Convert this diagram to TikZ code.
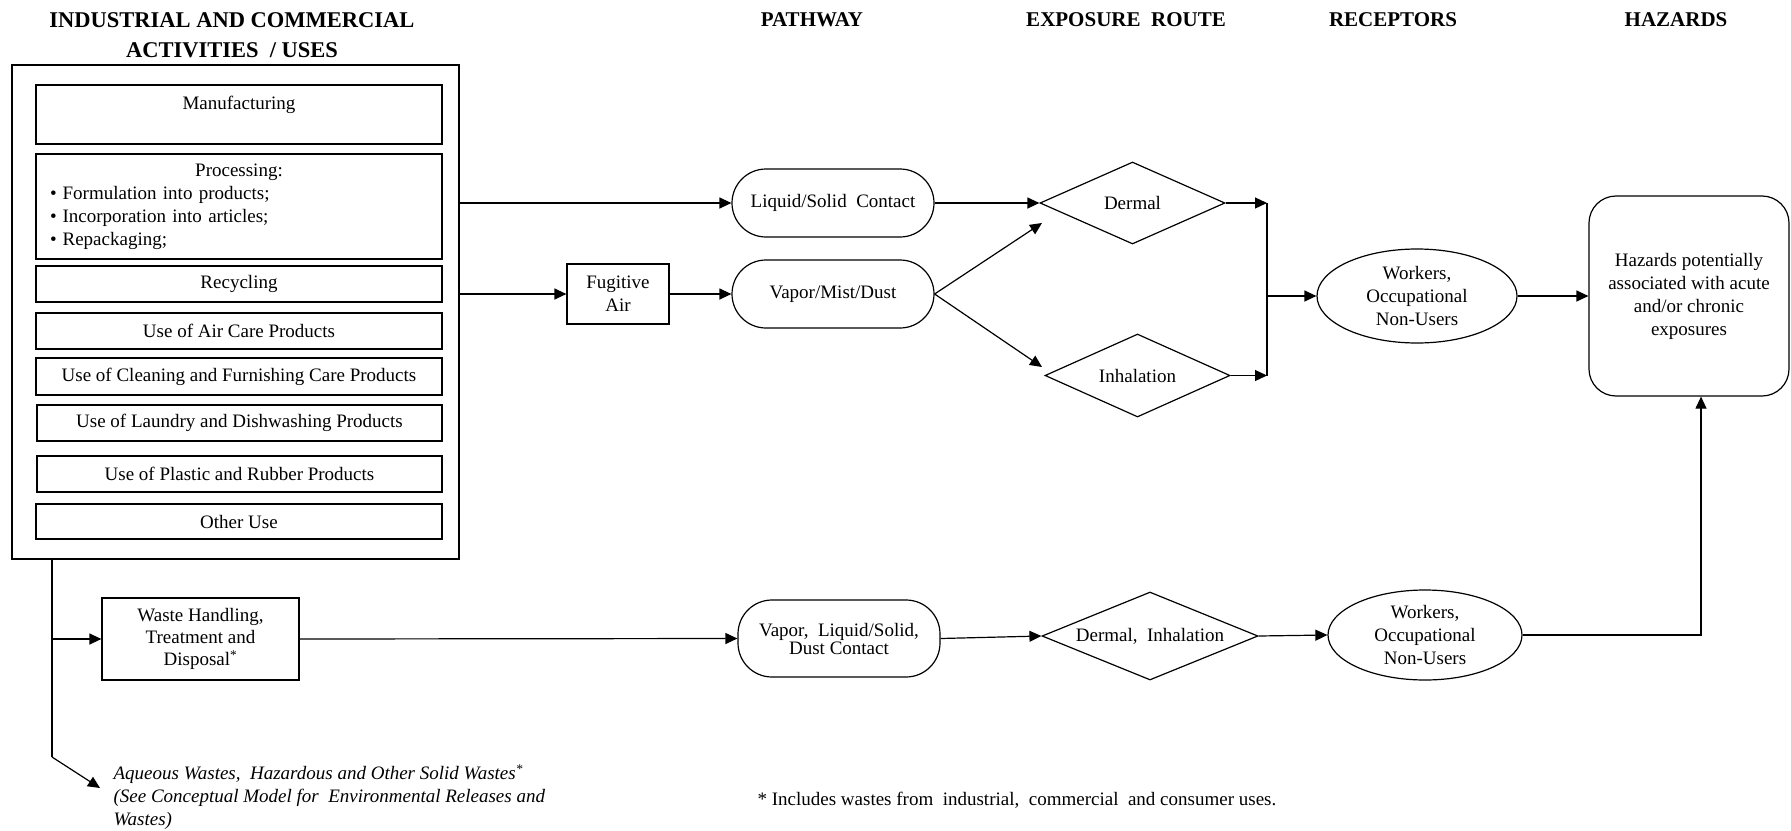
\documentclass[tikz,border=0pt]{standalone}
\usepackage{fontspec}
\setmainfont{Liberation Serif}
\usetikzlibrary{shapes.geometric,arrows.meta}

\tikzset{
  every node/.style={font=\fontsize{19}{23}\selectfont},
  head/.style={font=\fontsize{21}{30}\selectfont\bfseries, align=center, inner sep=0},
  actbox/.style={draw, minimum width=406, minimum height=36, inner sep=0, align=center},
  pathbox/.style={draw, rounded corners=34, minimum width=202, minimum height=68, inner sep=0, align=center},
  routediam/.style={draw, diamond, aspect=2.25, minimum width=185, minimum height=82, inner sep=0, align=center},
  recell/.style={draw, ellipse, minimum width=200, minimum height=94, inner sep=0, align=center},
}

\begin{document}
\begin{tikzpicture}[x=1pt,y=1pt,yscale=-1,line width=1.2pt,>={Triangle[length=12pt,width=11pt]}]
\useasboundingbox (0,0) rectangle (1791,830);

% Headings
\node[head, font=\fontsize{22.5}{30}\selectfont\bfseries] (hUses) at (232,35) {INDUSTRIAL AND COMMERCIAL\\ACTIVITIES~~/ USES};
\node[head] (hPath) at (812,20) {PATHWAY};
\node[head] (hRoute) at (1126,20) {EXPOSURE~~ROUTE};
\node[head] (hRec) at (1393,20) {RECEPTORS};
\node[head] (hHaz) at (1676,20) {HAZARDS};

% Activities / uses
\node[draw, minimum width=447, minimum height=494, inner sep=0] (uses) at (235.5,312) {};
\node[actbox, minimum height=59] (manuf) at (239,114.5) {Manufacturing\\[0pt]~};
\node[actbox, minimum height=105, text width=390, inner xsep=8, align=left] (proc) at (239,206.5)
  {\makebox[390pt]{Processing:}\\
   \hspace*{6pt}\textbullet\hspace{6pt}Formulation into products;\\
   \hspace*{6pt}\textbullet\hspace{6pt}Incorporation into articles;\\
   \hspace*{6pt}\textbullet\hspace{6pt}Repackaging;};
\node[actbox] (recyc) at (239,284) {Recycling};
\node[actbox] (air) at (239,331) {Use of Air Care Products};
\node[actbox, minimum height=37] (clean) at (239,376.5) {Use of Cleaning and Furnishing Care Products};
\node[actbox, minimum width=405] (laundry) at (239.5,423) {Use of Laundry and Dishwashing Products};
\node[actbox, minimum width=405] (plastic) at (239.5,474) {Use of Plastic and Rubber Products};
\node[actbox, minimum height=35] (other) at (239,521.5) {Other Use};

% Pathways
\node[draw, minimum width=102, minimum height=60, inner sep=0, align=center] (fugitive) at (618,294) {Fugitive\\Air};
\node[pathbox] (liquid) at (833,203) {Liquid/Solid~ Contact};
\node[pathbox] (vapor) at (833,294) {Vapor/Mist/Dust};

% Exposure routes
\node[routediam] (dermal) at (1132.5,203) {Dermal};
\node[routediam, minimum height=83] (inhal) at (1137.5,375.5) {Inhalation};

% Receptors and hazards
\node[recell] (workers) at (1417,296) {Workers,\\Occupational\\Non-Users};
\node[draw, rounded corners=27, minimum width=200, minimum height=200, inner sep=0, align=center] (hazards) at (1689,296)
  {Hazards potentially\\associated with acute\\and/or chronic\\exposures};

% Upper connectors
\draw[->] (uses.east |- liquid.west) -- (liquid.west);
\draw[->] (uses.east |- fugitive.west) -- (fugitive.west);
\draw[->] (fugitive.east) -- (vapor.west);
\draw[->] (liquid.east) -- (dermal.west);
\coordinate (d1) at (1042,223);
\coordinate (i1) at (1042,367);
\draw[->] (vapor.east) -- (d1);
\draw[->] (vapor.east) -- (i1);
\coordinate (jn) at (1267,296);
\draw[->] (dermal.east) -- (dermal.east -| jn);
\draw[->] (inhal.east) -- (inhal.east -| jn);
\draw (dermal.east -| jn) -- (inhal.east -| jn);
\draw[->] (jn) -- (workers.west);
\draw[->] (workers.east) -- (hazards.west);

% Waste branch
\node[draw, minimum width=197, minimum height=82, inner sep=0, align=center, font=\fontsize{19}{22}\selectfont] (waste) at (200.5,639)
  {Waste Handling,\\Treatment and\\Disposal\textsuperscript{*}};
\node[pathbox, minimum height=77, font=\fontsize{19}{18}\selectfont] (vlds) at (839,638.5) {Vapor,~ Liquid/Solid,\\Dust Contact};
\node[routediam, minimum width=216, minimum height=88] (dermInh) at (1150,636) {Dermal,~ Inhalation};
\node[recell, minimum width=194, minimum height=90] (workers2) at (1425,635) {Workers,\\Occupational\\Non-Users};

\coordinate (wk) at (52,757);
\coordinate (aq) at (100,788);
\draw (uses.south -| wk) -- (wk);
\draw[->] (wk) -- (aq);
\draw[->] (waste.west -| wk) -- (waste.west);
\draw[->] (waste.east) -- (vlds.west);
\draw[->] (vlds.east) -- (dermInh.west);
\draw[->] (dermInh.east) -- (workers2.west);
\coordinate (hz) at (1701,635);
\draw[->] (workers2.east) -- (hz) -- (hz |- hazards.south);

% Notes
\node[anchor=north west, inner sep=0, align=left, font=\fontsize{19}{23}\selectfont\itshape] (aqueous) at (113,764)
  {Aqueous Wastes,~ Hazardous and Other Solid Wastes\textsuperscript{*}\\
   (See Conceptual Model for~ Environmental Releases and\\
   Wastes)};
\node[anchor=west, inner sep=0] (note) at (757,800) {* Includes wastes from~ industrial,~ commercial~ and consumer uses.};

\end{tikzpicture}
\end{document}
